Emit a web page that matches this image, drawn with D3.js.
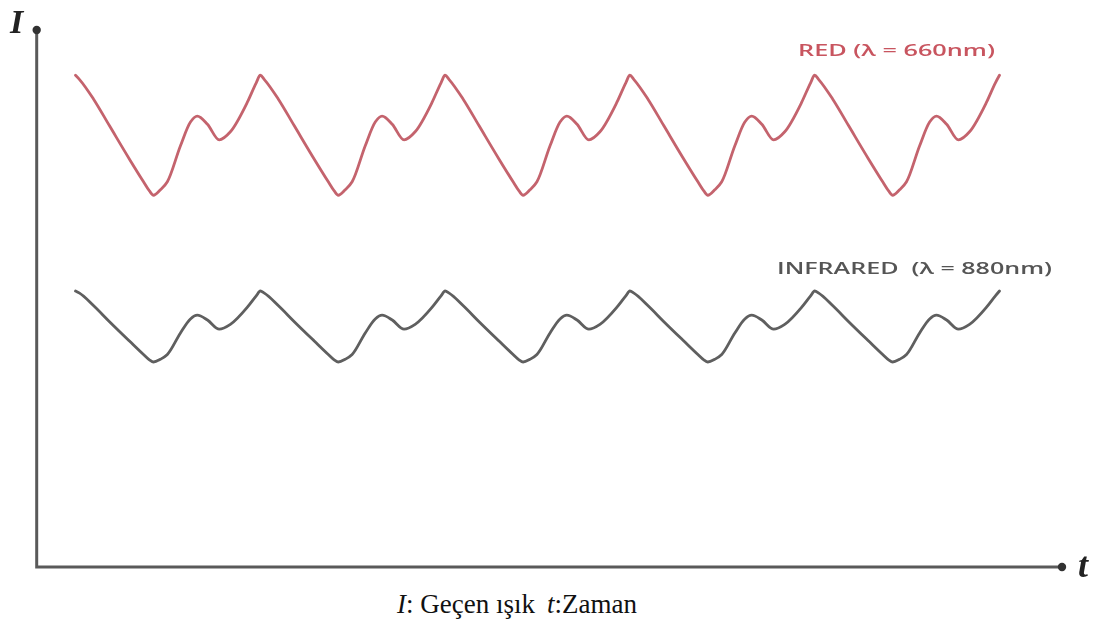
<!DOCTYPE html>
<html>
<head>
<meta charset="utf-8">
<script src="https://cdn.jsdelivr.net/npm/d3@7"></script>
<style>
  html, body { margin: 0; padding: 0; background: #ffffff; }
  svg { display: block; }
</style>
</head>
<body>
<svg id="chart" width="1105" height="628"></svg>
<script>
// Time in heart-beat units (peaks fall on whole beats); intensity in arbitrary units.
const time = [
  0.000, 0.022, 0.097, 0.184, 0.292, 0.368, 0.400, 0.422, 0.459, 0.497, 0.568, 0.622, 0.659, 0.714, 0.778, 0.838, 0.930, 0.978,
  1.000, 1.022, 1.097, 1.184, 1.292, 1.368, 1.400, 1.422, 1.459, 1.497, 1.568, 1.622, 1.659, 1.714, 1.778, 1.838, 1.930, 1.978,
  2.000, 2.022, 2.097, 2.184, 2.292, 2.368, 2.400, 2.422, 2.459, 2.497, 2.568, 2.622, 2.659, 2.714, 2.778, 2.838, 2.930, 2.978,
  3.000, 3.022, 3.097, 3.184, 3.292, 3.368, 3.400, 3.422, 3.459, 3.497, 3.568, 3.622, 3.659, 3.714, 3.778, 3.838, 3.930, 3.978,
  4.000, 4.022, 4.097, 4.184, 4.292, 4.368, 4.400, 4.422, 4.459, 4.497, 4.568, 4.622, 4.659, 4.714, 4.778, 4.838, 4.930, 4.978,
  5.000
];

// Transmitted red light (660 nm)
const red = [
  91.4, 90.6, 87.0, 82.0, 75.8, 71.6, 69.9, 69.1, 70.1, 71.6, 78.3, 82.7, 83.8, 82.3, 79.4, 80.9, 86.4, 90.0,
  91.4, 90.6, 87.0, 82.0, 75.8, 71.6, 69.9, 69.1, 70.1, 71.6, 78.3, 82.7, 83.8, 82.3, 79.4, 80.9, 86.4, 90.0,
  91.4, 90.6, 87.0, 82.0, 75.8, 71.6, 69.9, 69.1, 70.1, 71.6, 78.3, 82.7, 83.8, 82.3, 79.4, 80.9, 86.4, 90.0,
  91.4, 90.6, 87.0, 82.0, 75.8, 71.6, 69.9, 69.1, 70.1, 71.6, 78.3, 82.7, 83.8, 82.3, 79.4, 80.9, 86.4, 90.0,
  91.4, 90.6, 87.0, 82.0, 75.8, 71.6, 69.9, 69.1, 70.1, 71.6, 78.3, 82.7, 83.8, 82.3, 79.4, 80.9, 86.4, 90.0,
  91.4
];

// Transmitted infrared light (880 nm)
const infrared = [
  51.3, 50.9, 48.6, 45.6, 42.0, 39.5, 38.5, 38.1, 38.6, 39.5, 43.5, 46.1, 46.8, 45.9, 44.2, 45.1, 48.3, 50.4,
  51.3, 50.9, 48.6, 45.6, 42.0, 39.5, 38.5, 38.1, 38.6, 39.5, 43.5, 46.1, 46.8, 45.9, 44.2, 45.1, 48.3, 50.4,
  51.3, 50.9, 48.6, 45.6, 42.0, 39.5, 38.5, 38.1, 38.6, 39.5, 43.5, 46.1, 46.8, 45.9, 44.2, 45.1, 48.3, 50.4,
  51.3, 50.9, 48.6, 45.6, 42.0, 39.5, 38.5, 38.1, 38.6, 39.5, 43.5, 46.1, 46.8, 45.9, 44.2, 45.1, 48.3, 50.4,
  51.3, 50.9, 48.6, 45.6, 42.0, 39.5, 38.5, 38.1, 38.6, 39.5, 43.5, 46.1, 46.8, 45.9, 44.2, 45.1, 48.3, 50.4,
  51.3
];

const seriesNames = ["RED (λ = 660nm)", "INFRARED  (λ = 880nm)"];
const axisLabels = { y: "I", x: "t" };
const captionParts = [
  { text: "I", italic: true },
  { text: ": Geçen ışık", italic: false },
  { text: "t", italic: true, gap: true },
  { text: ":Zaman", italic: false }
];

const svg = d3.select("#chart");

// Slight softening for the plotted artwork
const defs = svg.append("defs");
defs.append("filter").attr("id", "soft")
  .attr("x", "-5%").attr("y", "-5%").attr("width", "110%").attr("height", "110%")
  .append("feGaussianBlur").attr("stdDeviation", 0.6);

const x = d3.scaleLinear().domain([-0.21, 5.36]).range([36.7, 1066]);
const y = d3.scaleLinear().domain([0, 100]).range([567, 29]);

const chart = svg.append("g").attr("class", "plot").attr("filter", "url(#soft)");

// Axes: plain lines with a dot at each far end
const axisColor = "#5a5a5a";
chart.append("path")
  .attr("d", d3.line()([[x(-0.21), y(100)], [x(-0.21), y(0)], [x(5.36) - 4, y(0)]]))
  .attr("fill", "none")
  .attr("stroke", axisColor)
  .attr("stroke-width", 3);
chart.append("circle").attr("cx", x(-0.21)).attr("cy", y(100) + 1).attr("r", 4.2).attr("fill", "#333");
chart.append("circle").attr("cx", x(5.36) - 4).attr("cy", y(0)).attr("r", 4.2).attr("fill", "#333");

chart.append("text")
  .attr("x", 10).attr("y", 33)
  .attr("font-family", "'Liberation Serif', 'Times New Roman', serif")
  .attr("font-style", "italic").attr("font-weight", "bold")
  .attr("font-size", 34).attr("fill", "#222")
  .text(axisLabels.y);
chart.append("text")
  .attr("x", 1078).attr("y", 577)
  .attr("font-family", "'Liberation Serif', 'Times New Roman', serif")
  .attr("font-style", "italic").attr("font-weight", "bold")
  .attr("font-size", 36).attr("fill", "#222")
  .text(axisLabels.x);

// Waveforms
const line = d3.line()
  .x(d => x(d[0]))
  .y(d => y(d[1]))
  .curve(d3.curveMonotoneX);

const redPts = time.map((t, i) => [t, red[i]]);
const irPts = time.map((t, i) => [t, infrared[i]]);

chart.append("path")
  .attr("d", line(redPts))
  .attr("fill", "none")
  .attr("stroke", "#c4636d")
  .attr("stroke-width", 2.8)
  .attr("stroke-linejoin", "round")
  .attr("stroke-linecap", "round");

chart.append("path")
  .attr("d", line(irPts))
  .attr("fill", "none")
  .attr("stroke", "#5e5e5e")
  .attr("stroke-width", 2.8)
  .attr("stroke-linejoin", "round")
  .attr("stroke-linecap", "round");

// Series labels
chart.append("text")
  .attr("x", 798).attr("y", 56)
  .attr("font-family", "'Open Sans', sans-serif")
  .attr("font-weight", 600).attr("font-size", 17)
  .attr("fill", "#c8545f")
  .attr("textLength", 197).attr("lengthAdjust", "spacingAndGlyphs")
  .text(seriesNames[0]);

chart.append("text")
  .attr("x", 777).attr("y", 274)
  .attr("font-family", "'Open Sans', sans-serif")
  .attr("font-weight", 600).attr("font-size", 17)
  .attr("fill", "#555555")
  .attr("xml:space", "preserve")
  .style("white-space", "pre")
  .attr("textLength", 275).attr("lengthAdjust", "spacingAndGlyphs")
  .text(seriesNames[1]);

// Caption
const cap = svg.append("text")
  .attr("x", 397).attr("y", 613)
  .attr("font-family", "'Liberation Serif', 'Times New Roman', serif")
  .attr("font-size", 27)
  .attr("fill", "#111");
captionParts.forEach(p => {
  cap.append("tspan")
    .attr("dx", p.gap ? 12 : 0)
    .attr("font-style", p.italic ? "italic" : "normal")
    .text(p.text);
});
</script>
</body>
</html>
